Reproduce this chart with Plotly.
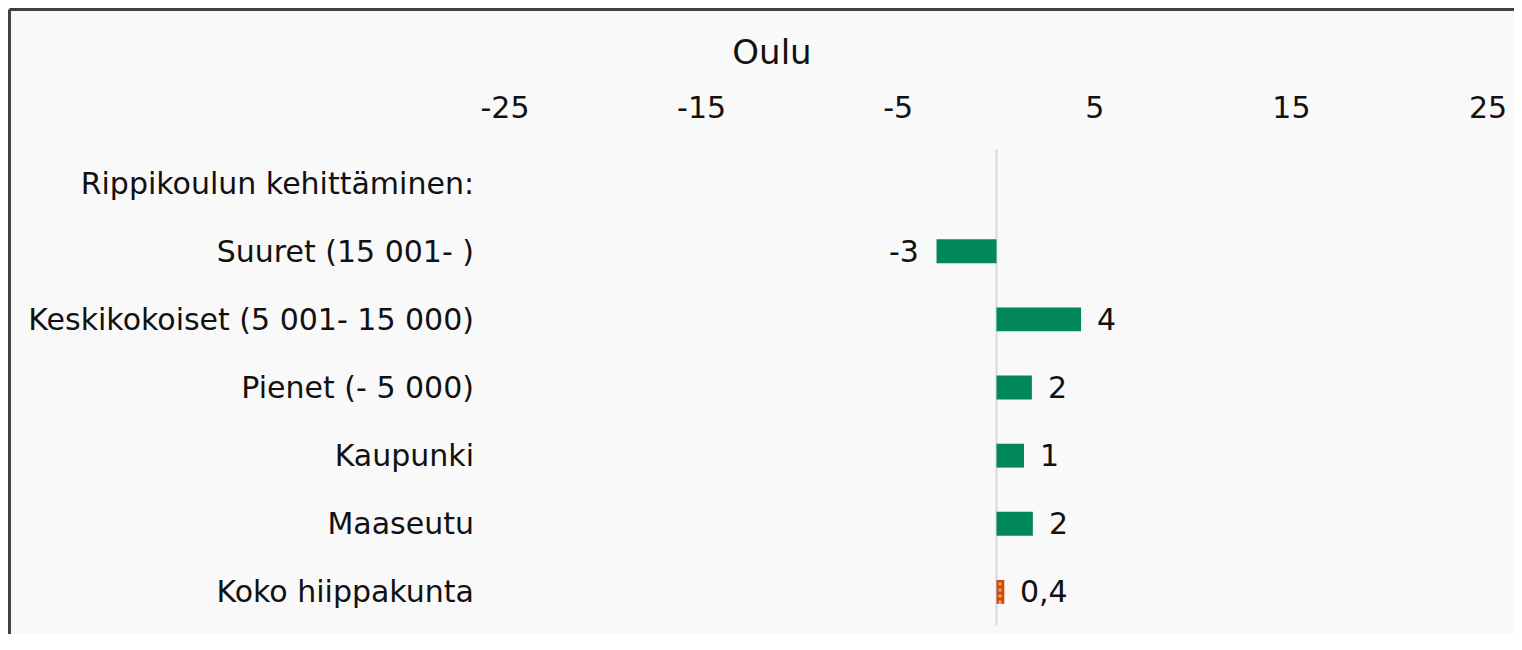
import plotly.graph_objects as go

categories = [
    "Rippikoulun kehittäminen:",
    "Suuret (15 001- )",
    "Keskikokoiset (5 001- 15 000)",
    "Pienet (- 5 000)",
    "Kaupunki",
    "Maaseutu",
    "Koko hiippakunta",
]
values = [None, -3.05, 4.3, 1.8, 1.4, 1.85, 0.4]
labels = ["", "-3", "4", "2", "1", "2", "0,4"]
colors = ["#00875a"] * 6 + ["#d24a00"]
patterns = [""] * 6 + ["."]
tick_vals = [-25, -15, -5, 5, 15, 25]
tick_text = ["-25", "-15", "-5", "5", "15", "25"]

FONT = "DejaVu Sans"
SIZE = 30

fig = go.Figure()
fig.add_trace(go.Bar(
    y=categories,
    x=values,
    orientation="h",
    width=0.35,
    marker=dict(
        color=colors,
        line=dict(width=0),
        pattern=dict(shape=patterns, fgcolor="white", size=6, solidity=0.25),
    ),
    hoverinfo="skip",
))

for cat, val, lab in zip(categories, values, labels):
    if val is None:
        continue
    fig.add_annotation(
        x=val, y=cat, text=lab, showarrow=False,
        xanchor="left" if val >= 0 else "right",
        xshift=14 if val >= 0 else -16,
        font=dict(family=FONT, size=SIZE, color="#111"),
    )

fig.add_shape(
    type="line", xref="x", yref="paper", x0=0, x1=0, y0=0, y1=1,
    line=dict(color="#d9d9d9", width=2), layer="below",
)
# frame: only left and top edges are inside the window
bx, by = -0.5041, 1.2925
fig.add_shape(type="line", xref="paper", yref="paper",
              x0=bx, x1=bx, y0=-0.1, y1=by,
              line=dict(color="#404040", width=3))
fig.add_shape(type="line", xref="paper", yref="paper",
              x0=bx, x1=1.1, y0=by, y1=by,
              line=dict(color="#404040", width=3))

fig.update_layout(
    width=1506, height=626,
    paper_bgcolor="#f9f9f9", plot_bgcolor="#f9f9f9",
    margin=dict(l=497, r=26, t=141, b=8),
    showlegend=False,
    title=dict(
        text="Oulu", x=764 / 1506, xref="container", xanchor="center",
        y=1 - 44 / 626, yref="container", yanchor="middle",
        font=dict(family=FONT, size=34, color="#111"),
    ),
    font=dict(family=FONT, size=SIZE, color="#111"),
    xaxis=dict(
        range=[-25, 25], side="top", tickvals=tick_vals, ticktext=tick_text,
        showgrid=False, zeroline=False, showline=False, ticks="",
        ticklabelstandoff=24,
    ),
    yaxis=dict(
        autorange="reversed", showgrid=False, zeroline=False,
        showline=False, ticks="", ticklabelstandoff=30,
    ),
)

fig.write_html("out.html")
